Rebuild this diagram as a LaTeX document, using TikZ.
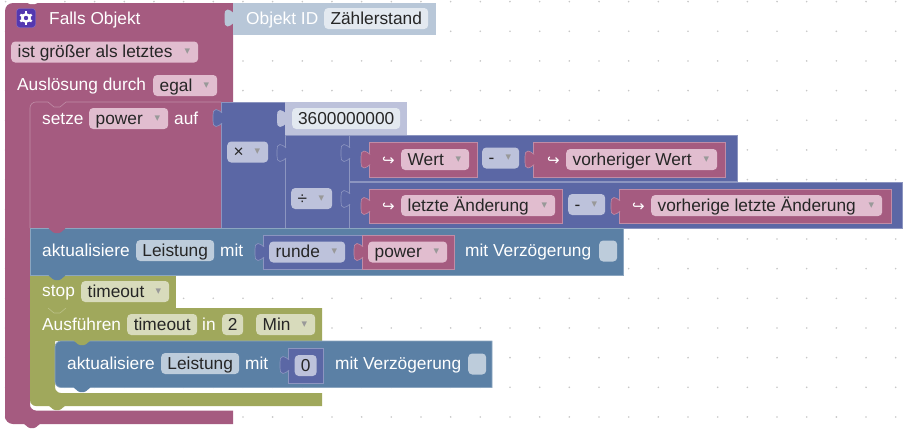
\documentclass[tikz,border=0pt]{standalone}
\usepackage{xcolor}
\usepackage{fontspec}
\setmainfont{Liberation Sans}
\newfontfamily\symfont{DejaVu Sans}
\definecolor{blockpink}{HTML}{A55B80}
\definecolor{edgepink}{HTML}{C08CA6}
\definecolor{fieldpink}{HTML}{E1BDCF}
\definecolor{blockindigo}{HTML}{5B67A5}
\definecolor{edgeindigo}{HTML}{8C95C0}
\definecolor{fieldindigo}{HTML}{BDC2DB}
\definecolor{blocksteel}{HTML}{5B80A5}
\definecolor{edgesteel}{HTML}{8CA6C0}
\definecolor{fieldsteel}{HTML}{BDCCDB}
\definecolor{blockolive}{HTML}{A0A85C}
\definecolor{edgeolive}{HTML}{BBC188}
\definecolor{fieldolive}{HTML}{D8DBBC}
\definecolor{paleblue}{HTML}{B8C7D8}
\definecolor{palefield}{HTML}{E3E9F0}
\definecolor{paleindigo}{HTML}{BDC2DB}
\definecolor{iconviolet}{HTML}{5438B0}
\tikzset{
    field/.style={rectangle, rounded corners=4pt, anchor=west, inner xsep=0pt, inner ysep=1pt,
        text height=15pt, text depth=4pt, text=black!85},
    blocktext/.style={rectangle, anchor=west, inner sep=0pt, text=white,
        text height=15pt, text depth=4pt},
    arrowtext/.style={blocktext, font=\symfont\fontsize{15}{18}\selectfont},
    pinkblock/.style={fill=blockpink, draw=edgepink, line width=0.6pt},
    indigoblock/.style={fill=blockindigo, draw=edgeindigo, line width=0.6pt},
    steelblock/.style={fill=blocksteel, draw=edgesteel, line width=0.6pt},
    paleblock/.style={fill=paleblue},
    paleindigoblock/.style={fill=paleindigo},
}
\newcommand{\ddmark}{\raisebox{3pt}{\symfont\fontsize{11}{11}\selectfont\textcolor{black!40}{▾}}}
\newcommand{\ddfield}[6]{\node[field, fill=#2] (#1) at (#3,#4) {\hbox to #5pt{\hspace{6.5pt}#6\hfill\ddmark\hspace{8pt}}};}
\newcommand{\inputtab}[3]{\path[#3, shift={(#1,#2)}] (0.6,-5) .. controls (-2,-6.5) and (-2.5,-8.5) .. (-5.5,-8.5) .. controls (-8,-8.5) and (-8.5,-6) .. (-8.5,-3) -- (-8.5,3) .. controls (-8.5,6) and (-8,8.5) .. (-5.5,8.5) .. controls (-2.5,8.5) and (-2,6.5) .. (0.6,5);}
\newcommand{\notch}[3]{\fill[#3, rounded corners=1pt] (#1,#2-0.5) -- (#1+6,#2+4.5) -- (#1+12,#2+4.5) -- (#1+18,#2-0.5) -- cycle;}
\begin{document}
\begin{tikzpicture}[x=1pt, y=-1pt, every node/.style={font=\fontsize{17.3}{20}\selectfont}]
    \useasboundingbox (0,0) rectangle (908,431);
    \fill[white] (0,0) rectangle (908,431);

    \foreach \i in {0,...,30}
        \foreach \j in {0,...,14}
            \fill[black!22] (5.6+29.67*\i,1.6+29.67*\j) circle (0.9);

    \fill[blockpink] [rounded corners=8pt] (5,424) -- (5,3) [sharp corners] -- (233,3) -- (233,102) -- (30,102) [rounded corners=6pt] -- (30,410.5) [sharp corners] -- (233,410.5) -- (233,424) -- (22,424) [rounded corners=8pt] -- (5,424) -- cycle;
    \fill[white, rounded corners=1pt] (24,0) -- (29,4) -- (36,4) -- (41,0) -- cycle;
    \notch{23}{423.5}{blockpink}

    \fill[paleblue] (233,3) rectangle (435.5,35);
    \inputtab{233}{18}{paleblock}
    \node[rectangle, fill=iconviolet, draw=iconviolet!70!white, rounded corners=3pt, minimum width=19pt, minimum height=19pt, inner sep=0pt] (iconbox) at (26,18) {};
    \fill[white] (iconbox.center) circle (5);
    \foreach \a in {30,90,...,330}
        \draw[white, line width=2.4pt] (iconbox.center) -- ++(\a:6.6);
    \fill[iconviolet] (iconbox.center) circle (2.2);
    \node[blocktext] (fallsobjekt) at (49,18.5) {Falls Objekt};
    \node[blocktext] (objektid) at (246,18.5) {Objekt ID};
    \node[field, fill=palefield, minimum width=104pt] (zaehlerstand) at (324,18.5) {Zählerstand};
    \ddfield{modus}{fieldpink}{11}{52}{187}{ist größer als letztes}
    \node[blocktext] (ausloesung) at (17,85) {Auslösung durch};
    \ddfield{egal}{fieldpink}{153}{85.5}{64}{egal}

    \fill[blockpink] (30,102) rectangle (221,228);
    \draw[edgepink, line width=0.6pt] (221,102) -- (66,102) -- (60,107) -- (54,107) -- (48,102) -- (36,102) [rounded corners=6pt] -- (30,102) [sharp corners] -- (30,228);
    \node[blocktext] (setze) at (42,118.5) {setze};
    \ddfield{power}{fieldpink}{89}{118.5}{79}{power}
    \node[blocktext] (auf) at (174,118.5) {auf};

    \filldraw[indigoblock] (221,102) rectangle (285,228);
    \inputtab{221.5}{118}{indigoblock}
    \ddfield{mal}{fieldindigo}{227}{152}{41}{×}

    \fill[paleindigo] (285,102) rectangle (406.5,135);
    \inputtab{285.5}{118.5}{paleindigoblock}
    \node[field, fill=palefield, minimum width=108pt] (zahl) at (292,118.5) {3600000000};

    \filldraw[indigoblock] (285,135) rectangle (349,228);
    \inputtab{285.5}{153}{indigoblock}
    \ddfield{geteilt}{fieldindigo}{291}{198.5}{41}{÷}

    \filldraw[indigoblock] (349,135.5) rectangle (737,181.5);
    \inputtab{349.5}{153}{indigoblock}
    \filldraw[pinkblock] (369,142.5) rectangle (477,177);
    \inputtab{369.5}{159.5}{pinkblock}
    \node[arrowtext] (pfeilwert) at (382,159.5) {↪};
    \ddfield{wert}{fieldpink}{401}{159.5}{68}{Wert}
    \ddfield{minusoben}{fieldindigo}{482}{158}{37}{-}
    \filldraw[pinkblock] (533,142.5) rectangle (725,177);
    \inputtab{533.5}{159.5}{pinkblock}
    \node[arrowtext] (pfeilvorher) at (547,159.5) {↪};
    \ddfield{vorherwert}{fieldpink}{566}{159.5}{151}{vorheriger Wert}

    \filldraw[indigoblock] (349,182) rectangle (902.5,228);
    \inputtab{349.5}{199}{indigoblock}
    \filldraw[pinkblock] (369,189) rectangle (562,223.5);
    \inputtab{369.5}{206}{pinkblock}
    \node[arrowtext] (pfeilletzte) at (382,205.5) {↪};
    \ddfield{letzte}{fieldpink}{401}{205.5}{154}{letzte Änderung}
    \ddfield{minusunten}{fieldindigo}{568}{204.5}{37}{-}
    \filldraw[pinkblock] (619,189) rectangle (891,223.5);
    \inputtab{619.5}{206}{pinkblock}
    \node[arrowtext] (pfeilvorherige) at (632,205.5) {↪};
    \ddfield{vorherige}{fieldpink}{651}{205.5}{231}{vorherige letzte Änderung}

    \filldraw[steelblock] (30,228.5) rectangle (623.5,275);
    \notch{48}{228.5}{blockpink}
    \node[blocktext] (aktualisiere) at (42,250.5) {aktualisiere};
    \node[field, fill=fieldsteel, minimum width=78pt] (leistung) at (136,250.5) {Leistung};
    \node[blocktext] (mit) at (220,250.5) {mit};
    \filldraw[indigoblock] (263,235.5) rectangle (362,269.5);
    \inputtab{263.5}{252}{indigoblock}
    \ddfield{runde}{fieldindigo}{269}{252}{76}{runde}
    \filldraw[pinkblock] (362,235.5) rectangle (454,269.5);
    \inputtab{362.5}{252}{pinkblock}
    \ddfield{powerwert}{fieldpink}{368}{252}{79}{power}
    \node[blocktext] (verzoegerung) at (465,250.5) {mit Verzögerung};
    \node[field, fill=fieldsteel, minimum width=18pt] (haken) at (599,251) {};

    \fill[blockolive] (30,275.5) rectangle (176,308);
    \notch{48}{275.5}{blocksteel}
    \node[blocktext] (stoptext) at (42,290.5) {stop};
    \ddfield{timeoutstop}{fieldolive}{81}{291.5}{88}{timeout}

    \fill[blockolive] (322,308) -- (30,308) [rounded corners=6pt] -- (30,406) [sharp corners] -- (322,406) -- (322,393) [rounded corners=6pt] -- (55,393) [sharp corners] -- (55,341) -- (322,341) -- cycle;
    \notch{48}{405.5}{blockolive}
    \draw[edgeolive, line width=0.6pt] (48,308) -- (54,313) -- (60,313) -- (66,308);
    \node[blocktext] (ausfuehren) at (42,324.5) {Ausführen};
    \node[field, fill=fieldolive, minimum width=70pt] (timeoutfeld) at (127,324.5) {timeout};
    \node[blocktext] (intext) at (202,324.5) {in};
    \node[field, fill=fieldolive, minimum width=21pt] (zwei) at (222,324.5) {2};
    \ddfield{einheit}{fieldolive}{256}{324.5}{59}{Min}

    \filldraw[steelblock] (492,341) -- (61,341) [rounded corners=6pt] -- (55,341) -- (55,387.5) [sharp corners] -- (492,387.5) -- cycle;
    \notch{73}{387.5}{blocksteel}
    \notch{73}{340.5}{blockolive}
    \node[blocktext] (aktualisiereinnen) at (67,363.5) {aktualisiere};
    \node[field, fill=fieldsteel, minimum width=78pt] (leistunginnen) at (161,363.5) {Leistung};
    \node[blocktext] (mitinnen) at (245,363.5) {mit};
    \filldraw[indigoblock] (288,348) rectangle (323.5,383);
    \inputtab{288.5}{365}{indigoblock}
    \node[field, fill=fieldindigo, minimum width=22pt] (null) at (294.5,365.5) {0};
    \node[blocktext] (verzoegerunginnen) at (335,363.5) {mit Verzögerung};
    \node[field, fill=fieldsteel, minimum width=18pt] (hakeninnen) at (468,364) {};
\end{tikzpicture}
\end{document}
